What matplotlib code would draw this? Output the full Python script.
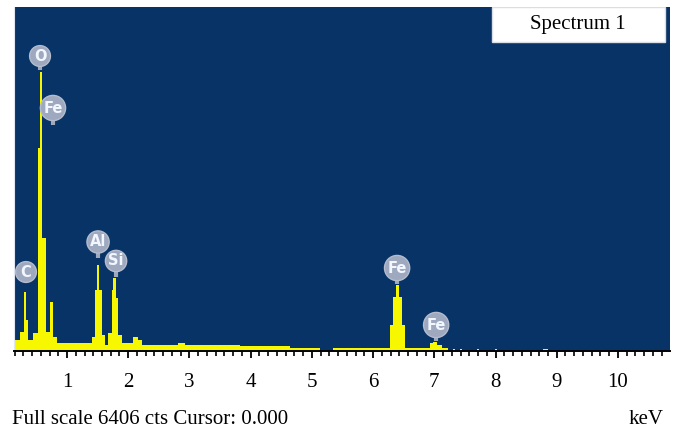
import matplotlib
matplotlib.use("Agg")
import matplotlib.pyplot as plt
from matplotlib.patches import Rectangle
from matplotlib.ticker import MultipleLocator, AutoMinorLocator

# EDS spectrum as channel groups: bin edges in keV and counts in each group
edges = [0.134, 0.232, 0.290, 0.338, 0.363, 0.444, 0.520, 0.555, 0.592, 0.660,
         0.722, 0.771, 0.837, 1.408, 1.452, 1.485, 1.528, 1.572, 1.621, 1.670,
         1.730, 1.750, 1.805, 1.838, 1.899, 2.078, 2.160, 2.225, 2.814, 2.928,
         3.827, 4.644, 5.134, 5.346, 6.278, 6.327, 6.372, 6.430, 6.474, 6.523,
         6.931, 6.980, 7.046, 7.127, 7.226, 7.310, 7.340, 7.420, 7.450, 7.700,
         7.730, 7.990, 8.020, 8.770, 8.850, 10.85]
counts = [205, 354, 1099, 577, 205, 335, 3780, 5195, 2104, 354,
          912, 261, 149, 261, 1136, 1601, 1136, 298, 112, 335,
          1136, 1359, 987, 298, 149, 261, 205, 112, 149, 112,
          93, 56, 0, 56, 484, 1005, 1229, 1005, 484, 56,
          149, 168, 112, 56, 0, 37, 0, 37, 0, 37,
          0, 37, 0, 37, 0]

full_scale = 6406

# peak markers: element, energy (keV), bubble height, stem end (counts)
peak_names = ["C", "O", "Fe", "Al", "Si", "Fe", "Fe"]
peak_energy = [0.330, 0.559, 0.771, 1.507, 1.801, 6.392, 7.030]
bubble_y = [1471, 5493, 4525, 2030, 1676, 1545, 484]
stem_y = [1285, 5232, 4208, 1732, 1378, 1248, 186]

bg = "#073366"
yellow = "#f7f700"
serif = "Liberation Serif"

fig = plt.figure(figsize=(6.78, 4.33), dpi=100)
ax = fig.add_axes([14 / 678, 82 / 433, 656 / 678, 344 / 433])
ax.set_facecolor(bg)

ax.stairs(counts, edges, fill=True, color=yellow, zorder=2)

for name, e, by, sy in zip(peak_names, peak_energy, bubble_y, stem_y):
    ax.plot([e, e], [sy, by], color="#9ea8be", lw=3, solid_capstyle="butt", zorder=3)
    ax.text(e, by, name, ha="center", va="center", fontsize=10.5, fontweight="bold",
            color="#f2f6ff", zorder=4,
            bbox=dict(boxstyle="circle,pad=0.2", fc="#9ea8be", ec="#b4bccd", lw=1))

ax.set_xlim(edges[0], edges[-1])
ax.set_ylim(0, full_scale)

for s in ["top", "right"]:
    ax.spines[s].set_visible(False)
ax.spines["left"].set_color("#dfe8f2")
ax.spines["bottom"].set_color("black")
ax.spines["bottom"].set_linewidth(1.4)

ax.xaxis.set_major_locator(MultipleLocator(1))
ax.xaxis.set_minor_locator(AutoMinorLocator(7))
ax.tick_params(axis="x", which="major", direction="out", length=5, width=1.3, pad=11,
               labelsize=15, labelfontfamily=serif)
ax.tick_params(axis="x", which="minor", direction="out", length=3.5, width=1.2)
ax.set_yticks([])

# legend box in the top right corner
ax.add_patch(Rectangle((478 / 656, 1 - 35 / 344), 173 / 656, 35 / 344,
                       transform=ax.transAxes, fc="white", ec="#d8dde6", lw=1, zorder=5))
ax.text(564 / 656, 1 - 18 / 344, "Spectrum 1", transform=ax.transAxes,
        ha="center", va="center", fontsize=15, family=serif, zorder=6)

fig.text(12 / 678, 1 - 419 / 433, "Full scale 6406 cts Cursor: 0.000",
         ha="left", va="center", fontsize=15, family=serif)
fig.text(664 / 678, 1 - 419 / 433, "keV", ha="right", va="center", fontsize=15, family=serif)

fig.savefig("out.png", dpi=100)
